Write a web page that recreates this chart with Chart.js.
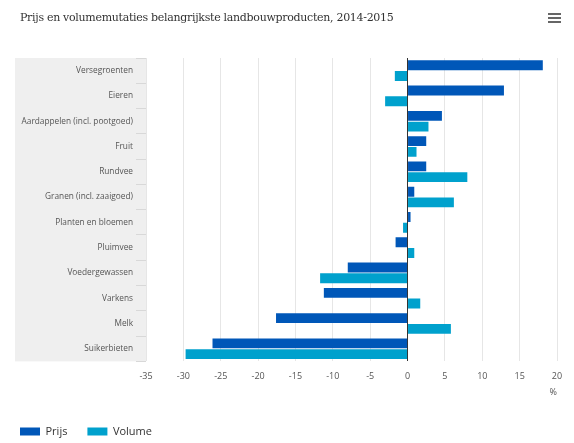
<!DOCTYPE html>
<html>
<head>
<meta charset="utf-8">
<script src="https://cdn.jsdelivr.net/npm/chart.js@4"></script>
<style>
    html, body { margin: 0; padding: 0; background: #fff; }
    #wrap { position: relative; width: 574px; height: 443px; }
    #title {
        position: absolute; left: 20px; top: 11px;
        font-family: "DejaVu Serif", serif; font-size: 11px; color: #333;
        letter-spacing: -0.3px;
    }
    #menu { position: absolute; left: 548px; top: 13px; width: 13px; }
    #menu div { height: 2px; background: #666; margin-bottom: 2px; }
    canvas { position: absolute; left: 0; top: 0; }
</style>
</head>
<body>
<div id="wrap">
    <canvas id="chart" width="574" height="443"></canvas>
    <div id="title">Prijs en volumemutaties belangrijkste landbouwproducten, 2014-2015</div>
    <div id="menu"><div></div><div></div><div></div></div>
</div>
<script>
// Data
const categories = [
    'Versegroenten', 'Eieren', 'Aardappelen (incl. pootgoed)', 'Fruit', 'Rundvee',
    'Granen (incl. zaaigoed)', 'Planten en bloemen', 'Pluimvee', 'Voedergewassen',
    'Varkens', 'Melk', 'Suikerbieten'
];
const prijs  = [18.1, 12.9, 4.6, 2.5, 2.5, 0.9, 0.4, -1.6, -8.0, -11.2, -17.6, -26.1];
const volume = [-1.7, -3.0, 2.8, 1.2, 8.0, 6.2, -0.6, 0.9, -11.7, 1.7, 5.8, -29.7];
const xTicks = [-35, -30, -25, -20, -15, -10, -5, 0, 5, 10, 15, 20];

const labelFont = { family: 'Open Sans', size: 8.3 };
const axisFont = { family: 'Open Sans', size: 9 };

// Grey panel behind the category labels
const labelPanel = {
    id: 'labelPanel',
    beforeDraw(chart) {
        const y = chart.scales.y;
        const c = chart.ctx;
        c.save();
        c.fillStyle = '#efefef';
        c.fillRect(15, y.top, chart.chartArea.left - 15, y.bottom - y.top);
        c.restore();
    }
};

const ctx = document.getElementById('chart').getContext('2d');
const chart = new Chart(ctx, {
    type: 'bar',
    data: {
        labels: categories,
        datasets: [
            { label: 'Prijs', data: prijs, backgroundColor: '#0057b8' },
            { label: 'Volume', data: volume, backgroundColor: '#00a1cd' }
        ]
    },
    options: {
        indexAxis: 'y',
        responsive: false,
        animation: false,
        categoryPercentage: 0.85,
        barPercentage: 0.92,
        layout: { padding: { left: 0, right: 17, top: 58, bottom: -4 } },
        plugins: {
            legend: {
                position: 'bottom',
                align: 'start',
                labels: {
                    boxWidth: 20,
                    boxHeight: 8,
                    padding: 20,
                    color: '#333',
                    font: { family: 'Open Sans', size: 11 }
                }
            },
            tooltip: { enabled: false }
        },
        scales: {
            y: {
                afterFit: s => { s.width = 146; },
                border: { display: false },
                grid: {
                    drawOnChartArea: false,
                    offset: true,
                    tickLength: 10,
                    color: '#d8d8d8'
                },
                ticks: { color: '#555', font: labelFont, padding: 3 }
            },
            x: {
                min: -35,
                max: 20,
                afterBuildTicks: s => { s.ticks = xTicks.map(v => ({ value: v })); },
                border: { display: false },
                grid: {
                    drawTicks: false,
                    color: c => c.tick && c.tick.value === 0 ? '#333' : '#e6e6e6',
                    lineWidth: 1
                },
                ticks: { color: '#555', font: axisFont, padding: 10 },
                title: {
                    display: true,
                    text: '%',
                    align: 'end',
                    color: '#555',
                    font: axisFont,
                    padding: { top: -5, bottom: 8 }
                }
            }
        }
    },
    plugins: [labelPanel]
});
</script>
</body>
</html>
